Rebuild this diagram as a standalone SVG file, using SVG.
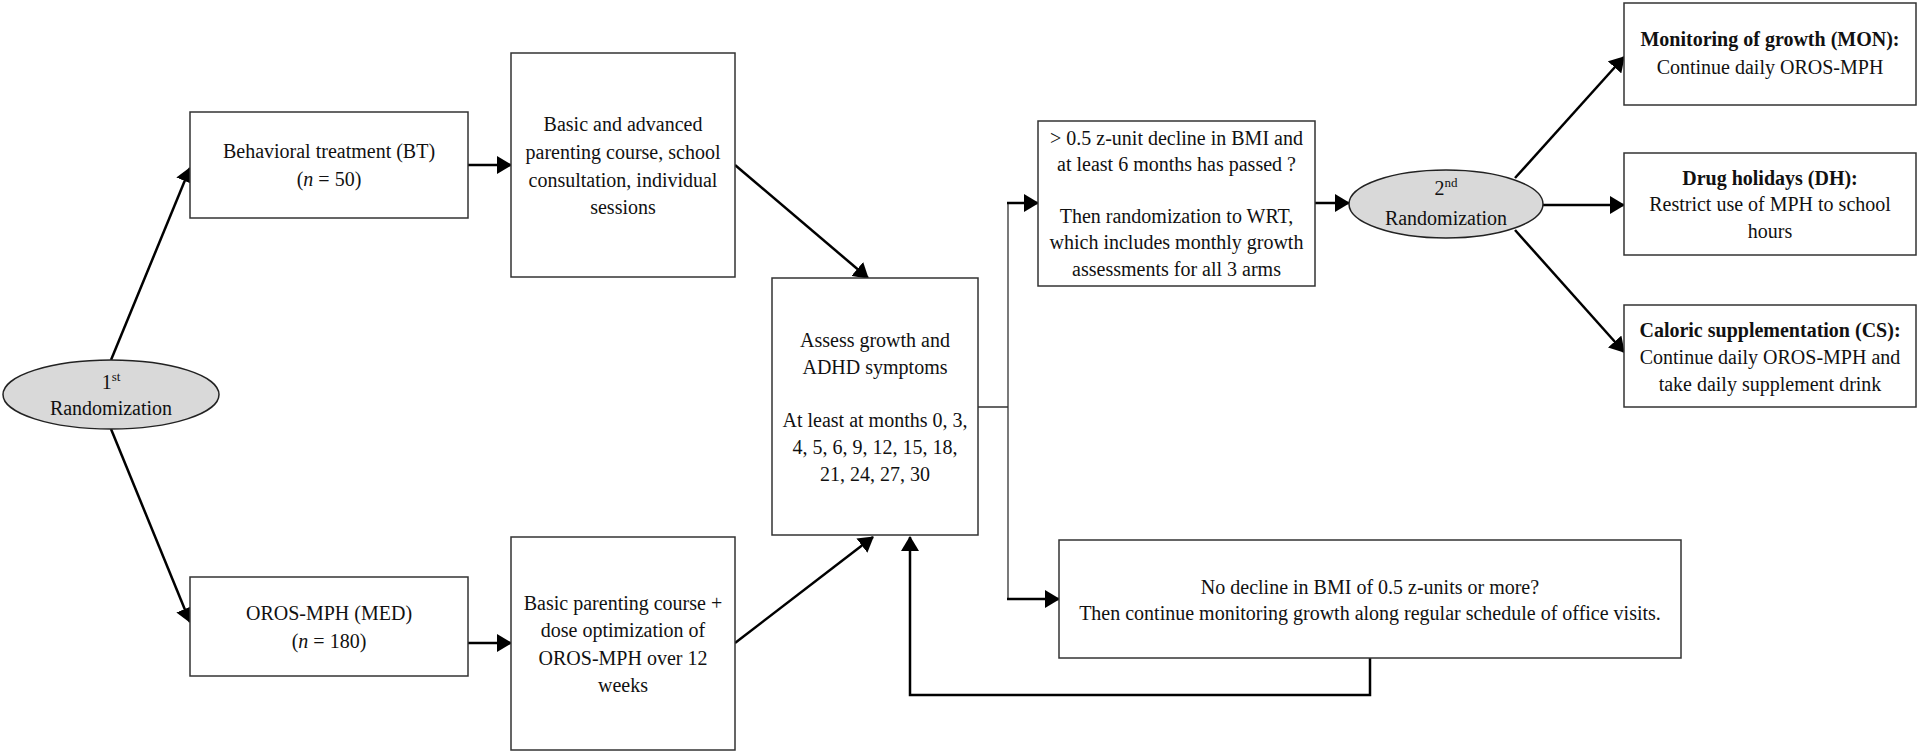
<svg xmlns="http://www.w3.org/2000/svg" width="1920" height="754" viewBox="0 0 1920 754">
<style>
.box{fill:#fff;stroke:#333;stroke-width:1.5}
.ell{fill:#d9d9d9;stroke:#222;stroke-width:1.5}
.t{font-family:"Liberation Serif","Times New Roman",serif;font-size:20px;text-anchor:middle;fill:#111}
.b{font-weight:bold}
.conn{stroke:#000;stroke-width:2.5;fill:none}
.thin{stroke:#333;stroke-width:1.3;fill:none}
</style>
<defs>
<marker id="ah" markerUnits="userSpaceOnUse" markerWidth="15" markerHeight="18" refX="14" refY="9" orient="auto">
<path d="M0,0 L15,9 L0,18 z" fill="#000"/>
</marker>
</defs>
<rect width="1920" height="754" fill="#fff"/>

<g id="connectors">
<line class="conn" x1="111" y1="360" x2="190" y2="168" marker-end="url(#ah)"/>
<line class="conn" x1="111" y1="429" x2="190" y2="622" marker-end="url(#ah)"/>
<line class="conn" x1="468" y1="165" x2="511" y2="165" marker-end="url(#ah)"/>
<line class="conn" x1="468" y1="643" x2="511" y2="643" marker-end="url(#ah)"/>
<line class="conn" x1="735" y1="165" x2="868" y2="278" marker-end="url(#ah)"/>
<line class="conn" x1="735" y1="643" x2="873" y2="537" marker-end="url(#ah)"/>
<path class="conn" d="M1370,658 V695 H910 V537" marker-end="url(#ah)"/>
<path class="thin" d="M978,407 H1008 M1008,203 V599"/>
<line class="conn" x1="1007" y1="203" x2="1038" y2="203" marker-end="url(#ah)"/>
<line class="conn" x1="1007" y1="599" x2="1059" y2="599" marker-end="url(#ah)"/>
<line class="conn" x1="1315" y1="203" x2="1349" y2="203" marker-end="url(#ah)"/>
<line class="conn" x1="1515" y1="178" x2="1624" y2="57" marker-end="url(#ah)"/>
<line class="conn" x1="1543" y1="205" x2="1624" y2="205" marker-end="url(#ah)"/>
<line class="conn" x1="1515" y1="230" x2="1624" y2="352" marker-end="url(#ah)"/>
</g>

<g id="rand1">
<ellipse class="ell" cx="111" cy="394.5" rx="108" ry="34.5"/>
<text class="t" x="111" y="389">1<tspan font-size="13" dy="-8">st</tspan></text>
<text class="t" x="111" y="415">Randomization</text>
</g>

<g id="bt">
<rect class="box" x="190" y="112" width="278" height="106"/>
<text class="t" x="329" y="158">Behavioral treatment (BT)</text>
<text class="t" x="329" y="186">(<tspan font-style="italic">n</tspan> = 50)</text>
</g>

<g id="med">
<rect class="box" x="190" y="577" width="278" height="99"/>
<text class="t" x="329" y="620">OROS-MPH (MED)</text>
<text class="t" x="329" y="648">(<tspan font-style="italic">n</tspan> = 180)</text>
</g>

<g id="basic-advanced">
<rect class="box" x="511" y="53" width="224" height="224"/>
<text class="t" x="623" y="131">Basic and advanced</text>
<text class="t" x="623" y="159">parenting course, school</text>
<text class="t" x="623" y="187">consultation, individual</text>
<text class="t" x="623" y="214">sessions</text>
</g>

<g id="basic-parenting">
<rect class="box" x="511" y="537" width="224" height="213"/>
<text class="t" x="623" y="610">Basic parenting course +</text>
<text class="t" x="623" y="637">dose optimization of</text>
<text class="t" x="623" y="665">OROS-MPH over 12</text>
<text class="t" x="623" y="692">weeks</text>
</g>

<g id="assess">
<rect class="box" x="772" y="278" width="206" height="257"/>
<text class="t" x="875" y="347">Assess growth and</text>
<text class="t" x="875" y="374">ADHD symptoms</text>
<text class="t" x="875" y="427">At least at months 0, 3,</text>
<text class="t" x="875" y="454">4, 5, 6, 9, 12, 15, 18,</text>
<text class="t" x="875" y="481">21, 24, 27, 30</text>
</g>

<g id="decision">
<rect class="box" x="1038" y="121" width="277" height="165"/>
<text class="t" x="1176.5" y="145">&gt; 0.5 z-unit decline in BMI and</text>
<text class="t" x="1176.5" y="171">at least 6 months has passed ?</text>
<text class="t" x="1176.5" y="223">Then randomization to WRT,</text>
<text class="t" x="1176.5" y="249">which includes monthly growth</text>
<text class="t" x="1176.5" y="276">assessments for all 3 arms</text>
</g>

<g id="no-decline">
<rect class="box" x="1059" y="540" width="622" height="118"/>
<text class="t" x="1370" y="594">No decline in BMI of 0.5 z-units or more?</text>
<text class="t" x="1370" y="620">Then continue monitoring growth along regular schedule of office visits.</text>
</g>

<g id="rand2">
<ellipse class="ell" cx="1446" cy="204" rx="97" ry="34"/>
<text class="t" x="1446" y="195">2<tspan font-size="13" dy="-8">nd</tspan></text>
<text class="t" x="1446" y="225">Randomization</text>
</g>

<g id="mon">
<rect class="box" x="1624" y="3" width="292" height="102"/>
<text class="t b" x="1770" y="46">Monitoring of growth (MON):</text>
<text class="t" x="1770" y="74">Continue daily OROS-MPH</text>
</g>

<g id="dh">
<rect class="box" x="1624" y="153" width="292" height="102"/>
<text class="t b" x="1770" y="185">Drug holidays (DH):</text>
<text class="t" x="1770" y="211">Restrict use of MPH to school</text>
<text class="t" x="1770" y="238">hours</text>
</g>

<g id="cs">
<rect class="box" x="1624" y="305" width="292" height="102"/>
<text class="t b" x="1770" y="337">Caloric supplementation (CS):</text>
<text class="t" x="1770" y="364">Continue daily OROS-MPH and</text>
<text class="t" x="1770" y="391">take daily supplement drink</text>
</g>
</svg>
